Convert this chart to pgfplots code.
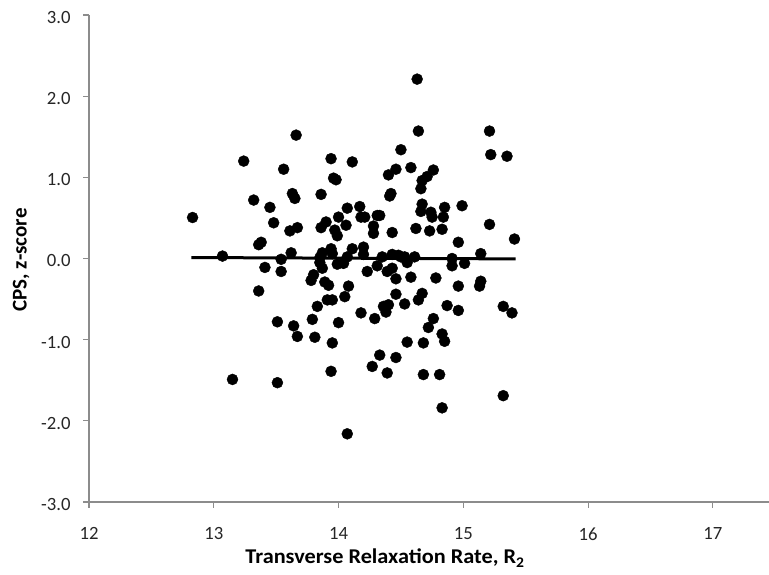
\documentclass[border=0pt]{standalone}
\usepackage{pgfplots}
\pgfplotsset{compat=1.18}
\usepackage{fontspec}
\setmainfont{Carlito}
\newfontfamily\xlabfont[FakeStretch=1.06]{Carlito}
\definecolor{axgray}{HTML}{8C8C8C}
\begin{document}
\begin{tikzpicture}
\begin{axis}[
  scale only axis, width=680pt, height=487pt,
  xmin=12, xmax=17.45, ymin=-3, ymax=3,
  axis x line*=bottom, axis y line*=left,
  axis line style={draw=axgray, line width=1.1pt},
  xtick={12,13,14,15,16,17}, ytick={-3,-2,-1,0,1,2,3},
  tick align=outside, major tick length=5.5pt,
  tick style={draw=axgray, line width=1.1pt},
  /pgf/number format/assume math mode=true,
  ticklabel style={font=\fontsize{18.7}{22}\selectfont, text=black!85, inner sep=0pt},
  yticklabel style={anchor=east, xshift=-12.8pt, yshift=-2.5pt,
    /pgf/number format/fixed, /pgf/number format/fixed zerofill, /pgf/number format/precision=1},
  xticklabel style={anchor=north, yshift=-20pt},
  xlabel={\xlabfont\bfseries Transverse Relaxation Rate, R\textsubscript{2}},
  ylabel={\textbf{CPS, z-score}},
  xlabel style={at={(axis description cs:0.4353,-0.1273)}, anchor=base, font=\fontsize{21}{24}\selectfont, inner sep=0pt},
  ylabel style={at={(axis description cs:-0.0916,0.497)}, anchor=base, font=\fontsize{21}{24}\selectfont, inner sep=0pt},
  clip=false,
]
\addplot[only marks, mark=*, mark size=5.5pt, black] coordinates {
(12.83,0.505) (13.07,0.03) (13.15,-1.49) (13.24,1.20) (13.32,0.72) (13.36,-0.40)
(13.36,0.17) (13.38,0.20) (13.41,-0.11) (13.45,0.63) (13.48,0.44) (13.51,-0.78)
(13.51,-1.53) (13.54,-0.01) (13.54,-0.16) (13.56,1.10) (13.61,0.34) (13.62,0.07)
(13.63,0.80) (13.65,0.74) (13.64,-0.83) (13.66,1.52) (13.67,0.38) (13.67,-0.96)
(13.78,-0.27) (13.80,-0.20) (13.79,-0.75) (13.81,-0.97) (13.83,-0.59) (13.85,0.01)
(13.85,-0.05) (13.86,0.79) (13.86,0.38) (13.87,0.07) (13.87,-0.12) (13.89,-0.29)
(13.90,0.45) (13.92,-0.33) (13.91,-0.51) (13.94,1.23) (13.94,0.12) (13.94,-1.39)
(13.95,-1.04) (13.95,-0.51) (13.95,0.06) (13.96,0.99) (13.98,0.97) (13.97,0.35)
(13.99,0.28) (13.99,-0.07) (14.00,0.51) (14.00,-0.79) (14.04,-0.06) (14.05,-0.47)
(14.06,0.41) (14.07,0.62) (14.08,-0.34) (14.07,-2.16) (14.07,0.02) (14.11,1.19)
(14.11,0.12) (14.17,0.64) (14.18,0.51) (14.18,-0.67) (14.20,0.14) (14.20,0.05)
(14.21,0.51) (14.23,-0.16) (14.27,-1.33) (14.28,0.40) (14.28,0.31) (14.29,-0.74)
(14.31,-0.09) (14.31,0.53) (14.33,0.53) (14.33,-1.19) (14.35,0.02) (14.36,-0.59)
(14.38,-0.66) (14.39,-0.16) (14.39,-1.41) (14.40,1.03) (14.41,0.77) (14.42,0.80)
(14.40,-0.57) (14.43,0.32) (14.43,0.05) (14.43,-0.12) (14.46,-0.25) (14.46,-0.44)
(14.46,1.10) (14.46,-1.22) (14.48,0.04) (14.50,0.02) (14.50,1.34) (14.53,0.02)
(14.53,-0.56) (14.55,-0.05) (14.55,-1.03) (14.58,1.12) (14.58,-0.23) (14.61,0.02)
(14.63,2.21) (14.64,1.57) (14.62,0.37) (14.64,-0.51) (14.66,0.86) (14.67,-0.43)
(14.67,0.67) (14.66,0.58) (14.67,0.96) (14.71,1.01) (14.76,1.09) (14.68,-1.04)
(14.68,-1.43) (14.72,-0.85) (14.73,0.34) (14.74,0.57) (14.75,0.51) (14.76,-0.74)
(14.78,-0.24) (14.81,-1.43) (14.83,0.36) (14.84,0.51) (14.83,-0.93) (14.83,-1.84)
(14.85,-1.02) (14.85,0.63) (14.87,-0.58) (14.91,0.00) (14.91,-0.09) (14.96,0.20)
(14.96,-0.34) (14.96,-0.64) (14.99,0.65) (15.01,-0.06) (15.13,-0.34) (15.14,-0.28)
(15.14,0.06) (15.21,1.57) (15.21,0.42) (15.22,1.28) (15.32,-0.59) (15.32,-1.69)
(15.35,1.26) (15.39,-0.67) (15.41,0.24)
};
\addplot[black, line width=3pt, no marks] coordinates {(12.82,0.012) (15.42,-0.005)};
\end{axis}
\pgfresetboundingbox
\path (-89pt,-72pt) rectangle (680pt,502pt);
\end{tikzpicture}
\end{document}
